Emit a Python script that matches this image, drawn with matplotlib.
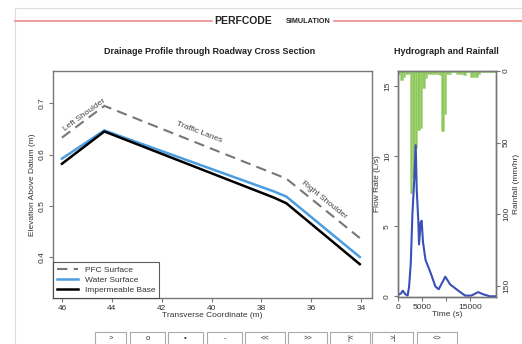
import matplotlib
matplotlib.use("Agg")
import matplotlib.pyplot as plt
from matplotlib.patches import Rectangle
from matplotlib.lines import Line2D

plt.rcParams['font.family'] = ['Liberation Sans', 'DejaVu Sans']

# cross section profile (transverse coordinate in m, elevation in m)
pfc_x = [46, 44.3, 37.0, 34.05]
pfc_y = [0.633, 0.695, 0.553, 0.437]
water_x = [46, 44.3, 37.5, 37.0, 34.05]
water_y = [0.592, 0.647, 0.528, 0.518, 0.400]
base_x = [46, 44.3, 37.5, 37.0, 34.05]
base_y = [0.582, 0.645, 0.516, 0.505, 0.386]

labels_text = ["Left Shoulder", "Traffic Lanes", "Right Shoulder"]
labels_x = [45.1, 40.5, 35.5]
labels_y = [0.678, 0.643, 0.512]
labels_rot = [36, -21, -39]

# hydrograph (s, L/s)
flow_t = [0, 600, 1000, 1500, 2000, 2300, 2650, 3000, 3330, 3670, 3880, 4220, 4350,
          4700, 4900, 5170, 5700, 6730, 7750, 8430, 9800, 10800, 12500, 13900,
          15200, 16600, 17600, 19000, 20200]
flow_q = [0.1, 0.2, 0.4, 0.15, 0.05, 0.7, 2.4, 6.0, 8.1, 10.8, 7.6, 5.3, 3.7,
          5.3, 5.4, 3.9, 2.6, 1.7, 0.7, 0.5, 1.4, 0.85, 0.4, 0.05,
          0.05, 0.3, 0.15, 0.0, 0.0]

# rainfall (mm/hr), 500 s intervals
rain_t = [i * 500 for i in range(41)]
rain_i = [2, 6, 4, 2, 2, 85, 75, 54, 41, 40, 12, 5, 2, 2, 2, 2, 2, 3, 42, 30,
          2, 2, 1, 1, 2, 2, 2, 3, 1, 1, 4, 4, 4, 2, 1, 1, 1, 1, 1, 1, 1]

buttons = [">", "o", "\u2022", "-", "<<", ">>", "|<", ">|", "<>"]

W, H = 522, 344
fig = plt.figure(figsize=(W / 100, H / 100), dpi=100)

def fx(px):
    return px / W

def fy(py):
    return 1 - py / H

# page frame and header
fig.add_artist(Line2D([fx(15), 1], [fy(8), fy(8)], color='#dddddd', lw=0.8))
fig.add_artist(Line2D([fx(15), fx(15)], [fy(8), 0], color='#dddddd', lw=0.8))
fig.add_artist(Line2D([fx(15), fx(212)], [fy(21), fy(21)], color='#f08a8a', lw=1.2))
fig.add_artist(Line2D([fx(334), 1], [fy(21), fy(21)], color='#f08a8a', lw=1.2))
fig.text(fx(214), fy(21), "PERFCODE", fontsize=7.5, fontweight='bold', ha='left', va='center', color='#222222')
fig.text(fx(331), fy(21.6), "SIMULATION", fontsize=5.2, fontweight='bold', ha='right', va='center', color='#222222')

gray = '#777777'

# left panel: drainage profile
ax = fig.add_axes([fx(53), fy(298), fx(372) - fx(53), fy(71) - fy(298)])
ax.plot(pfc_x, pfc_y, color=gray, lw=1.5, dashes=(5, 3), label="PFC Surface")
ax.plot(water_x, water_y, color='#4a9de0', lw=1.8, label="Water Surface")
ax.plot(base_x, base_y, color='black', lw=1.8, label="Impermeable Base")
for t, x, y, r in zip(labels_text, labels_x, labels_y, labels_rot):
    ax.text(x, y, t, rotation=r, fontsize=6, color='#444444', ha='center', va='center')
ax.set_xlim(46.36, 33.56)
ax.set_ylim(0.32, 0.763)
ax.set_xticks([46, 44, 42, 40, 38, 36, 34])
ax.set_yticks([0.4, 0.5, 0.6, 0.7])
ax.set_yticklabels(["0.4", "0.5", "0.6", "0.7"], rotation=90, va='center')
ax.tick_params(labelsize=6, length=3, width=0.8, color=gray, labelcolor='#333333', pad=2)
ax.set_xlabel("Transverse Coordinate (m)", fontsize=6, color='#333333', labelpad=0)
ax.set_ylabel("Elevation Above Datum (m)", fontsize=6, color='#333333', labelpad=2)
for s in ax.spines.values():
    s.set_color(gray)
    s.set_linewidth(1.0)
leg = ax.legend(loc='lower left', fontsize=6, frameon=True, fancybox=False,
                borderaxespad=0, handlelength=2.5, labelspacing=0.25, borderpad=0.5)
leg.get_frame().set_edgecolor('#333333')
leg.get_frame().set_linewidth(0.8)
for t in leg.get_texts():
    t.set_color('#333333')
fig.text(fx(210), fy(52), "Drainage Profile through Roadway Cross Section", fontsize=6.5,
         fontweight='bold', ha='center', va='center', color='#222222')

# right panel: hydrograph and rainfall
axh = fig.add_axes([fx(398), fy(297), fx(496) - fx(398), fy(71) - fy(297)])
axr = axh.twinx()
axr.bar(rain_t, rain_i, width=500, align='edge', color='#8cc85a', edgecolor='#a6d67e', linewidth=0.4)
axr.set_ylim(158, 0)
axr.set_yticks([0, 50, 100, 150])
axr.set_yticklabels(["0", "50", "100", "150"], rotation=90, va='center')
axr.set_ylabel("Rainfall (mm/hr)", fontsize=6, color='#333333', labelpad=2)
axh.set_zorder(axr.get_zorder() + 1)
axh.patch.set_visible(False)
axh.plot(flow_t, flow_q, color='#3a4fb8', lw=1.5)
axh.set_xlim(0, 20300)
axh.set_ylim(-0.05, 16.1)
axh.set_xticks([0, 5000, 10000, 15000])
axh.set_xticklabels(["0", "5000", "", "15000"])
axh.set_yticks([0, 5, 10, 15])
axh.set_yticklabels(["0", "5", "10", "15"], rotation=90, va='center')
axh.set_xlabel("Time (s)", fontsize=6, color='#333333', labelpad=0)
axh.set_ylabel("Flow Rate (L/s)", fontsize=6, color='#333333', labelpad=2)
for a in (axh, axr):
    a.tick_params(labelsize=6, length=3, width=0.8, color=gray, labelcolor='#333333', pad=2)
    for s in a.spines.values():
        s.set_color(gray)
        s.set_linewidth(1.0)
fig.text(fx(446), fy(52), "Hydrograph and Rainfall", fontsize=6.5,
         fontweight='bold', ha='center', va='center', color='#222222')

# control buttons along the bottom
bx = [95, 130, 168, 207, 245, 288, 330, 372, 417]
bw = [31, 35, 35, 35, 40, 39, 40, 41, 40]
for b, x0, w in zip(buttons, bx, bw):
    fig.add_artist(Rectangle((fx(x0), fy(345)), fx(w), fy(332) - fy(345),
                             facecolor='white', edgecolor='#aaaaaa', lw=0.8))
    fig.text(fx(x0 + w / 2), fy(338.5), b, fontsize=5.5, ha='center', va='center', color='#333333')

fig.savefig("out.png", dpi=100)
